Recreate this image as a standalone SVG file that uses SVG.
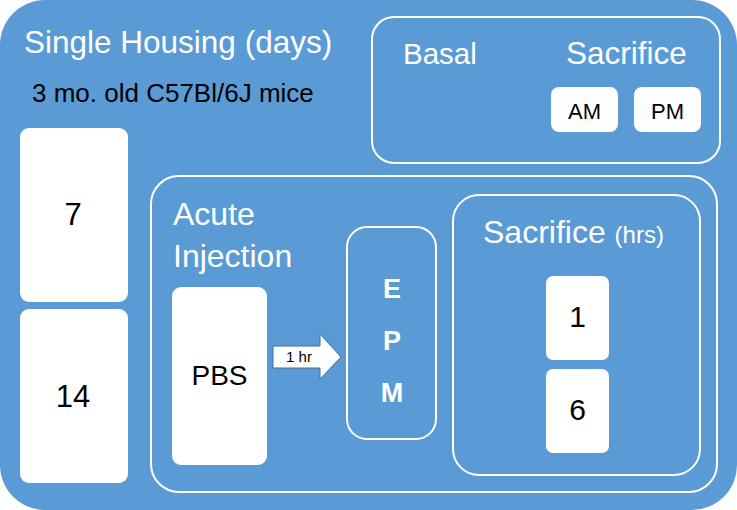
<svg xmlns="http://www.w3.org/2000/svg" width="737" height="510" viewBox="0 0 737 510">
<style>
.bg{fill:#5B9BD5}
.wbox{fill:#FFFFFF}
.frame{fill:none;stroke:#FFFFFF;stroke-width:2}
.wt{fill:#FFFFFF;font-family:"Liberation Sans",Arial,sans-serif}
.bt{fill:#000000;font-family:"Liberation Sans",Arial,sans-serif}
</style>
<rect class="bg" x="0" y="0" width="737" height="510" rx="45" ry="45"/>
<g id="title">
<text class="wt" x="24" y="53" font-size="31.5">Single Housing (days)</text>
<text class="bt" x="32" y="102" font-size="26">3 mo. old C57Bl/6J mice</text>
</g>
<g id="day7">
<rect class="wbox" x="20" y="128" width="108" height="174" rx="9"/>
<text class="bt" x="73" y="225" font-size="31" text-anchor="middle">7</text>
</g>
<g id="day14">
<rect class="wbox" x="20" y="309" width="108" height="174" rx="9"/>
<text class="bt" x="73" y="407" font-size="31" text-anchor="middle">14</text>
</g>
<g id="basal">
<rect class="frame" x="372" y="17" width="348" height="146" rx="22"/>
<text class="wt" x="403" y="64" font-size="29.5">Basal</text>
<text class="wt" x="566" y="64" font-size="31.5">Sacrifice</text>
</g>
<g id="am">
<rect class="wbox" x="551" y="87" width="67" height="45" rx="8"/>
<text class="bt" x="584.5" y="119" font-size="22" text-anchor="middle">AM</text>
</g>
<g id="pm">
<rect class="wbox" x="634" y="87" width="67" height="45" rx="8"/>
<text class="bt" x="667.5" y="119" font-size="22" text-anchor="middle">PM</text>
</g>
<g id="acute">
<rect class="frame" x="151" y="176" width="566" height="316" rx="28"/>
<text class="wt" x="173" y="225" font-size="32">Acute</text>
<text class="wt" x="173" y="267" font-size="32">Injection</text>
</g>
<g id="pbs">
<rect class="wbox" x="172" y="287" width="95" height="178" rx="9"/>
<text class="bt" x="219.5" y="385" font-size="28" text-anchor="middle">PBS</text>
</g>
<g id="connectors">
<path d="M273,346 L320,346 L320,334 L341,357 L320,379 L320,368 L273,368 Z" fill="#FFFFFF" stroke="#41719C" stroke-width="1"/>
<text class="bt" x="299" y="362" font-size="15" text-anchor="middle">1 hr</text>
</g>
<g id="epm">
<rect class="frame" x="347" y="227" width="89" height="212" rx="20"/>
<text class="wt" x="392" y="298" font-size="27" font-weight="bold" text-anchor="middle">E</text>
<text class="wt" x="392" y="350" font-size="27" font-weight="bold" text-anchor="middle">P</text>
<text class="wt" x="392" y="402" font-size="27" font-weight="bold" text-anchor="middle">M</text>
</g>
<g id="sacrifice-hrs">
<rect class="frame" x="453" y="195" width="247" height="280" rx="26"/>
<text class="wt" x="483" y="243" font-size="32">Sacrifice <tspan font-size="24">(hrs)</tspan></text>
</g>
<g id="hr1">
<rect class="wbox" x="546" y="276" width="63" height="84" rx="7"/>
<text class="bt" x="577.5" y="327" font-size="30" text-anchor="middle">1</text>
</g>
<g id="hr6">
<rect class="wbox" x="546" y="369" width="63" height="84" rx="7"/>
<text class="bt" x="577.5" y="420" font-size="30" text-anchor="middle">6</text>
</g>
</svg>
